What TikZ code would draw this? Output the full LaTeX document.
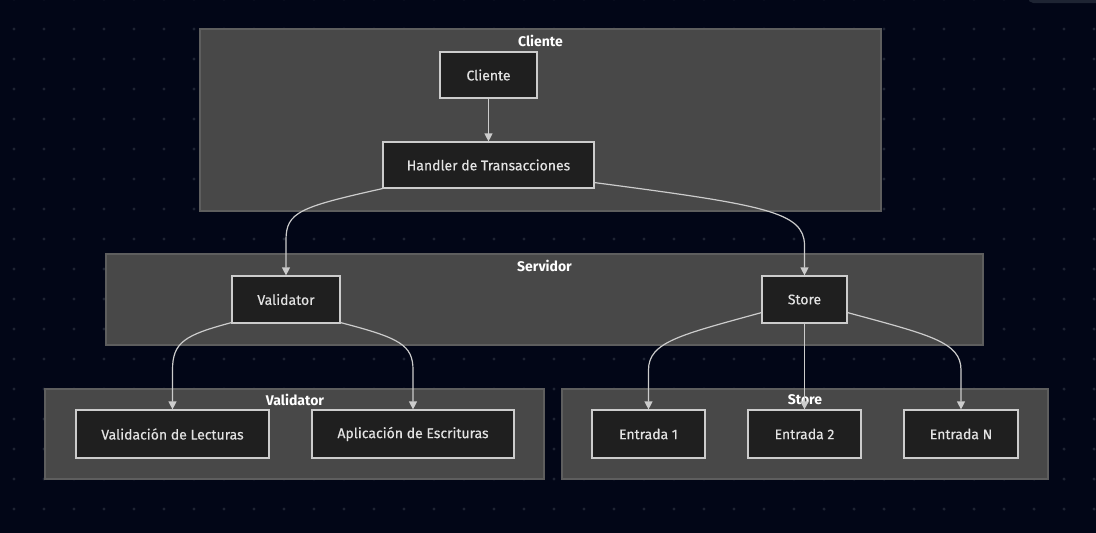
\documentclass[tikz,border=0pt]{standalone}
\usepackage{fontspec}
\setmainfont{Fira Sans}
\newfontfamily\nodefont[FakeBold=0.35]{Fira Sans}
\usetikzlibrary{arrows.meta,calc}
\definecolor{bgc}{HTML}{020617}
\definecolor{dotc}{HTML}{1E2433}
\definecolor{clfill}{HTML}{484848}
\definecolor{cldraw}{HTML}{5E5E5E}
\definecolor{ndfill}{HTML}{1F1F1F}
\definecolor{nddraw}{HTML}{CCCCCC}
\definecolor{txt}{HTML}{E3E3E3}
\definecolor{edgec}{HTML}{CCCCCC}
\definecolor{barc}{HTML}{1E2433}
\begin{document}
\begin{tikzpicture}[x=0.75pt,y=-0.75pt,
  cluster/.style={draw=cldraw,fill=clfill,line width=0.9pt,inner sep=0pt},
  box/.style={draw=nddraw,fill=ndfill,line width=0.9pt,text=txt,font=\nodefont\fontsize{10.5}{12}\selectfont,inner sep=0pt},
  cllabel/.style={text=white,font=\fontsize{10.5}{12}\selectfont\bfseries,inner sep=0pt},
  edge/.style={draw=edgec,line width=0.9pt,-{Triangle[length=6pt,width=6pt]}}]
\useasboundingbox (0,0) rectangle (1096,532);
\begin{scope}
\clip (0,0) rectangle (1096,532);
\fill[bgc] (-5,-5) rectangle (1100,540);
\foreach \i in {0,...,36} {\foreach \j in {0,...,17} {\fill[dotc] (14+30*\i,-1+30*\j) circle[radius=1.3pt];}}
\fill[barc,rounded corners=4pt] (1028,-10) rectangle (1110,3);
\end{scope}

% clusters
\node[cluster,minimum width=510.75pt,minimum height=136.5pt] (clCliente) at (540.5,120) {};
\node[cllabel] (lCliente) at (540.5,40.5) {Cliente};
\node[cluster,minimum width=657.75pt,minimum height=68.25pt] (clServidor) at (544.5,299.5) {};
\node[cllabel] (lServidor) at (544.5,265.5) {Servidor};
\node[cluster,minimum width=374.25pt,minimum height=67.5pt] (clValidator) at (294.5,434) {};
\node[cllabel] (lValidator) at (295,399.5) {Validator};
\node[cluster,minimum width=364.5pt,minimum height=67.5pt] (clStore) at (805,434) {};
\node[cllabel] (lStore) at (805,399.5) {Store};

% nodes
\node[box,minimum width=72.75pt,minimum height=34.5pt] (cliente) at (488.5,75) {Cliente};
\node[box,minimum width=158.25pt,minimum height=34.5pt] (handler) at (488.5,165) {Handler de Transacciones};
\node[box,minimum width=81pt,minimum height=35.25pt] (validator) at (286,299.5) {Validator};
\node[box,minimum width=63.75pt,minimum height=35.25pt] (store) at (804.5,299.5) {Store};
\node[box,minimum width=144.75pt,minimum height=36pt] (vallect) at (172.5,434) {Validación de Lecturas};
\node[box,minimum width=151.5pt,minimum height=36pt] (aplesc) at (413,434) {Aplicación de Escrituras};
\node[box,minimum width=84.75pt,minimum height=36pt] (e1) at (648.5,434) {Entrada 1};
\node[box,minimum width=84.75pt,minimum height=36pt] (e2) at (804.5,434) {Entrada 2};
\node[box,minimum width=85.5pt,minimum height=36pt] (en) at (961,434) {Entrada N};

% edges
\draw[edge] (cliente.south) -- (handler.north);
\draw[edge] (handler.south west) .. controls (300,207) and (286,212) .. (286,240) -- (validator.north);
\draw[edge] ($(handler.south east)+(0,-6)$) .. controls (765,205) and (804,212) .. (804.5,245) -- (store.north);
\draw[edge] ($(validator.south west)+(0,-1)$) .. controls (185,335) and (172.5,342) .. (172.5,370) -- (vallect.north);
\draw[edge] ($(validator.south east)+(0,-1)$) .. controls (400,338) and (413,345) .. (413,370) -- (aplesc.north);
\draw[edge] ($(store.south west)+(0,-11)$) .. controls (680,335) and (648.5,342) .. (648.5,370) -- (e1.north);
\draw[edge] (store.south) -- (e2.north);
\draw[edge] ($(store.south east)+(0,-11)$) .. controls (930,335) and (961,342) .. (961,370) -- (en.north);
\end{tikzpicture}
\end{document}
